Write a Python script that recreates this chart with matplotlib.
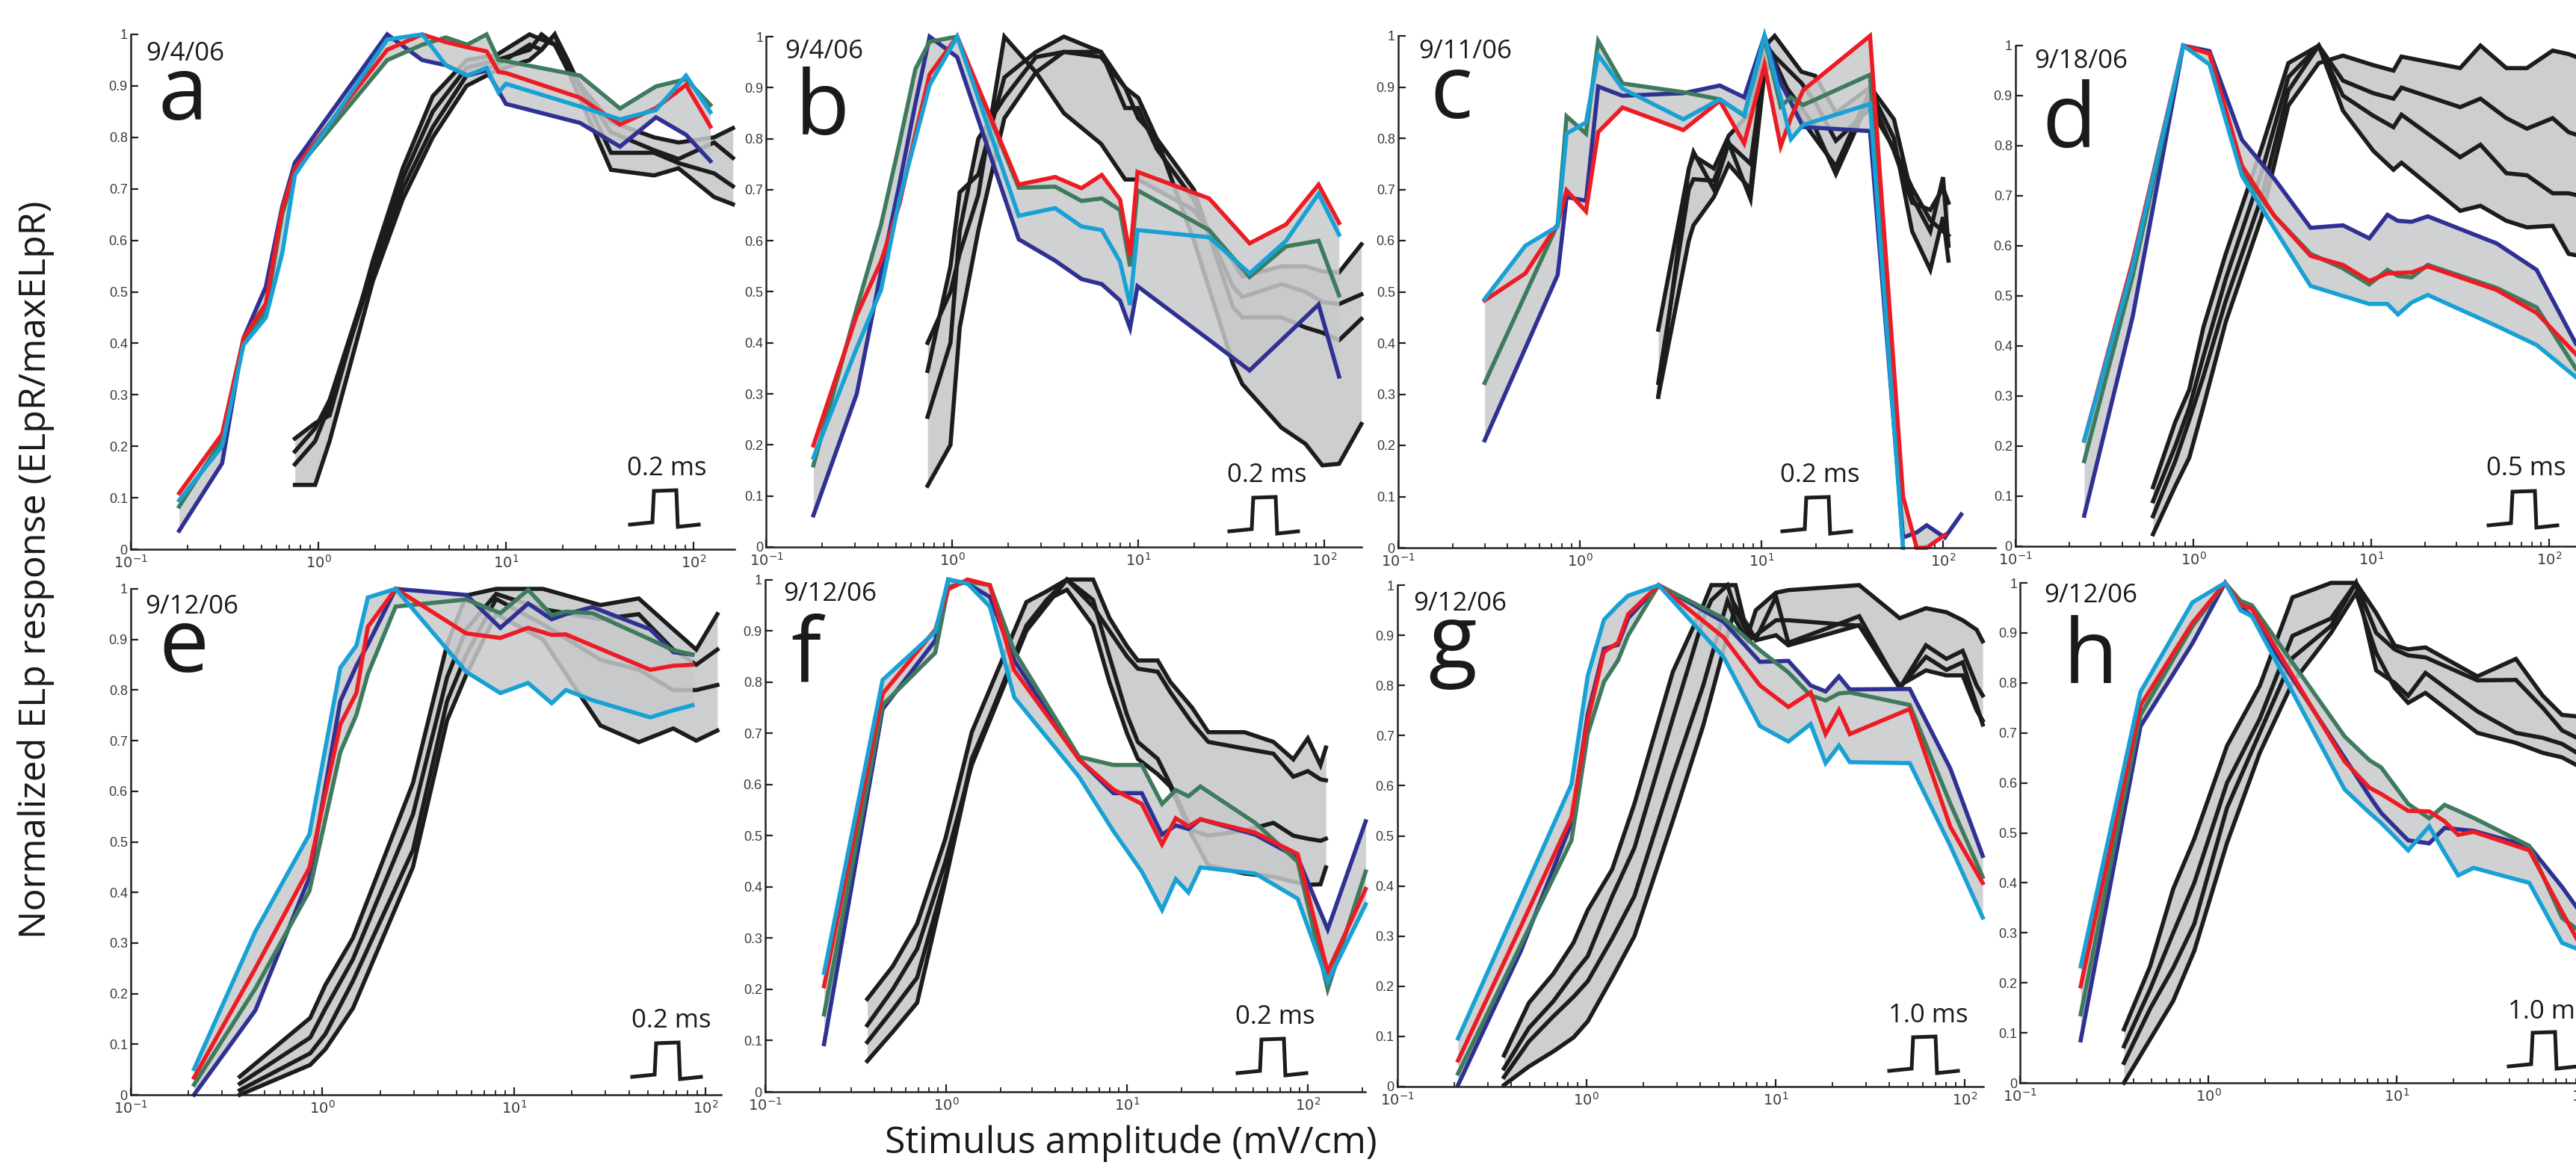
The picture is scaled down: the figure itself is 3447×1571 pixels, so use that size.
import numpy as np
import matplotlib
matplotlib.use("Agg")
import matplotlib.pyplot as plt
from matplotlib.lines import Line2D
from matplotlib.ticker import FixedLocator, NullFormatter

nan = np.nan

# ---------------- data (x given as log10 of stimulus amplitude, mV/cm) ----------------
# panel a
a_col_lx = [-0.742, -0.513, -0.399, -0.28, -0.193, -0.125, 0.367, 0.554, 0.68, 0.794, 0.897, 0.96, 1.0, 1.395, 1.608, 1.80, 1.96, 2.09]
a_blue   = [0.036, 0.167, 0.41, 0.51, 0.665, 0.751, 1.0, 0.95, 0.94, 0.92, 0.93, 0.89, 0.865, 0.828, 0.782, 0.839, 0.805, 0.754]
a_red    = [0.109, 0.224, 0.41, 0.477, 0.66, 0.74, 0.97, 1.0, 0.985, 0.975, 0.967, 0.927, 0.925, 0.877, 0.825, 0.857, 0.902, 0.821]
a_green  = [0.083, 0.213, 0.40, 0.463, 0.65, 0.734, 0.95, 0.98, 0.994, 0.98, 1.0, 0.95, 0.948, 0.92, 0.856, 0.899, 0.913, 0.863]
a_cyan   = [0.095, 0.20, 0.397, 0.45, 0.574, 0.727, 0.99, 1.0, 0.94, 0.92, 0.935, 0.887, 0.904, 0.86, 0.835, 0.853, 0.92, 0.849]
a_blk_lx = [-0.125, -0.017, 0.06, 0.29, 0.45, 0.61, 0.79, 0.95, 1.126, 1.19, 1.26, 1.33, 1.56, 1.79, 1.92, 2.11, 2.21]
a_k1 = [0.215, 0.245, 0.26, 0.56, 0.74, 0.88, 0.95, 0.96, 1.0, 0.99, 0.98, 0.93, 0.83, 0.80, 0.79, 0.80, 0.818]
a_k2 = [0.19, 0.235, 0.29, 0.55, 0.72, 0.85, 0.935, 0.95, 0.97, 1.0, 0.98, 0.94, 0.81, 0.775, 0.758, 0.79, 0.76]
a_k3 = [0.165, 0.21, 0.28, 0.54, 0.70, 0.82, 0.92, 0.94, 0.98, 0.97, 1.0, 0.95, 0.77, 0.77, 0.75, 0.73, 0.705]
a_k4 = [0.125, 0.125, 0.21, 0.52, 0.68, 0.80, 0.90, 0.93, 0.95, 0.97, 1.0, 0.93, 0.737, 0.726, 0.74, 0.684, 0.67]

# panel b
b_col_lx = [-0.747, -0.514, -0.383, -0.285, -0.198, -0.122, 0.026, 0.357, 0.553, 0.695, 0.804, 0.902, 0.956, 0.996, 1.381, 1.599, 1.795, 1.97, 2.08]
b_blue   = [0.062, 0.30, 0.54, 0.71, 0.87, 1.0, 0.96, 0.603, 0.561, 0.525, 0.515, 0.483, 0.429, 0.511, 0.406, 0.346, 0.414, 0.475, 0.334]
b_red    = [0.199, 0.454, 0.56, 0.671, 0.81, 0.926, 1.0, 0.71, 0.725, 0.703, 0.729, 0.681, 0.571, 0.735, 0.683, 0.595, 0.632, 0.71, 0.635]
b_green  = [0.16, 0.468, 0.632, 0.79, 0.937, 0.99, 1.0, 0.704, 0.706, 0.678, 0.683, 0.66, 0.55, 0.699, 0.621, 0.529, 0.589, 0.60, 0.493]
b_cyan   = [0.175, 0.39, 0.504, 0.68, 0.80, 0.905, 1.0, 0.649, 0.664, 0.628, 0.621, 0.559, 0.474, 0.621, 0.607, 0.536, 0.60, 0.692, 0.612]
b_blk_lx = [-0.133, -0.01, 0.04, 0.14, 0.28, 0.45, 0.60, 0.80, 0.93, 1.0, 1.1, 1.3, 1.51, 1.56, 1.77, 1.9, 1.99, 2.08, 2.2]
b_k1 = [0.40, 0.50, 0.575, 0.69, 1.0, 0.93, 0.85, 0.79, 0.72, 0.72, 0.70, 0.66, 0.56, 0.53, 0.55, 0.55, 0.54, 0.538, 0.593]
b_k2 = [0.345, 0.55, 0.695, 0.73, 0.92, 0.97, 1.0, 0.97, 0.86, 0.86, 0.78, 0.68, 0.51, 0.49, 0.515, 0.50, 0.48, 0.476, 0.495]
b_k3 = [0.255, 0.40, 0.62, 0.80, 0.88, 0.96, 0.97, 0.97, 0.90, 0.84, 0.80, 0.70, 0.47, 0.45, 0.45, 0.43, 0.42, 0.405, 0.447]
b_k4 = [0.12, 0.20, 0.43, 0.62, 0.84, 0.93, 0.97, 0.96, 0.90, 0.88, 0.80, 0.60, 0.358, 0.319, 0.234, 0.202, 0.16, 0.163, 0.241]

# panel c
c_col_lx = [-0.524, -0.30, -0.122, -0.073, 0.034, 0.101, 0.235, 0.57, 0.771, 0.905, 1.017, 1.106, 1.162, 1.23, 1.598, 1.78, 1.855, 1.91, 2.01, 2.1]
c_blue   = [0.21, 0.39, 0.533, 0.685, 0.678, 0.901, 0.883, 0.888, 0.903, 0.88, 1.0, 0.908, 0.87, 0.822, 0.814, 0.02, 0.03, 0.044, 0.02, 0.065]
c_red    = [0.483, 0.536, 0.632, 0.698, 0.657, 0.812, 0.86, 0.816, 0.873, 0.79, 0.943, 0.784, 0.84, 0.894, 1.0, 0.10, 0.0, 0.0, 0.025, nan]
c_green  = [0.322, 0.495, 0.632, 0.843, 0.809, 0.99, 0.907, 0.89, 0.876, 0.844, 0.996, 0.862, 0.88, 0.865, 0.924, 0.0, nan, nan, nan, nan]
c_cyan   = [0.486, 0.59, 0.628, 0.809, 0.831, 0.963, 0.897, 0.837, 0.876, 0.845, 1.0, 0.88, 0.798, 0.826, 0.867, 0.0, nan, nan, nan, nan]
c_blk_lx = [0.432, 0.60, 0.626, 0.738, 0.82, 0.94, 1.017, 1.073, 1.22, 1.296, 1.41, 1.6, 1.73, 1.83, 1.93, 2.0, 2.03]
c_k1 = [0.426, 0.74, 0.766, 0.741, 0.805, 0.85, 0.979, 1.0, 0.93, 0.922, 0.85, 0.90, 0.837, 0.685, 0.618, 0.724, 0.59]
c_k2 = [0.322, 0.70, 0.72, 0.717, 0.791, 0.681, 0.93, 0.95, 0.837, 0.80, 0.745, 0.894, 0.80, 0.618, 0.543, 0.646, 0.561]
c_k3 = [0.295, 0.60, 0.63, 0.685, 0.749, 0.70, 0.986, 0.96, 0.908, 0.87, 0.795, 0.858, 0.78, 0.703, 0.64, 0.618, 0.61]
c_k4 = [0.295, 0.74, 0.773, 0.70, 0.79, 0.75, 0.95, 0.93, 0.86, 0.82, 0.73, 0.88, 0.775, 0.674, 0.66, 0.703, 0.674]

# panel d
d_col_lx = [-0.614, -0.341, -0.057, 0.091, 0.273, 0.455, 0.659, 0.841, 0.989, 1.091, 1.15, 1.227, 1.318, 1.705, 1.93, 2.15]
d_blue   = [0.061, 0.459, 1.0, 0.989, 0.812, 0.734, 0.636, 0.641, 0.615, 0.662, 0.65, 0.648, 0.659, 0.605, 0.552, 0.405]
d_red    = [0.211, 0.57, 1.0, 0.984, 0.76, 0.66, 0.58, 0.562, 0.53, 0.545, 0.546, 0.547, 0.559, 0.512, 0.466, 0.384]
d_green  = [0.17, 0.54, 1.0, 0.984, 0.75, 0.66, 0.584, 0.555, 0.523, 0.552, 0.54, 0.537, 0.562, 0.516, 0.477, 0.355]
d_cyan   = [0.211, 0.56, 1.0, 0.962, 0.74, 0.635, 0.52, 0.50, 0.484, 0.484, 0.463, 0.487, 0.502, 0.44, 0.402, 0.338]
d_blk_lx = [-0.227, -0.102, -0.023, 0.057, 0.182, 0.386, 0.534, 0.705, 0.841, 1.011, 1.125, 1.17, 1.5, 1.614, 1.76, 1.875, 2.02, 2.11, 2.17]
d_k1 = [0.024, 0.12, 0.177, 0.28, 0.448, 0.66, 0.88, 0.965, 0.98, 0.961, 0.95, 0.978, 0.955, 1.0, 0.955, 0.955, 0.99, 0.983, 0.975]
d_k2 = [0.06, 0.17, 0.252, 0.34, 0.49, 0.70, 0.91, 1.0, 0.93, 0.905, 0.894, 0.916, 0.877, 0.894, 0.855, 0.834, 0.855, 0.827, 0.82]
d_k3 = [0.09, 0.20, 0.277, 0.38, 0.534, 0.75, 0.937, 1.0, 0.90, 0.86, 0.837, 0.862, 0.777, 0.802, 0.745, 0.741, 0.705, 0.705, 0.70]
d_k4 = [0.118, 0.248, 0.313, 0.438, 0.584, 0.798, 0.965, 1.0, 0.87, 0.79, 0.752, 0.766, 0.67, 0.68, 0.65, 0.637, 0.64, 0.584, 0.58]

# panel e
e_col_lx = [-0.67, -0.35, -0.068, 0.093, 0.177, 0.237, 0.382, 0.75, 0.928, 1.073, 1.196, 1.27, 1.408, 1.71, 1.83, 1.93]
e_blue   = [0.0, 0.167, 0.43, 0.778, 0.848, 0.89, 1.0, 0.988, 0.923, 0.971, 0.94, 0.95, 0.964, 0.92, 0.875, 0.87]
e_red    = [0.034, 0.25, 0.449, 0.732, 0.794, 0.925, 1.0, 0.912, 0.903, 0.923, 0.909, 0.91, 0.888, 0.84, 0.848, 0.85]
e_green  = [0.02, 0.21, 0.403, 0.677, 0.751, 0.832, 0.965, 0.979, 0.952, 0.998, 0.948, 0.955, 0.952, 0.90, 0.879, 0.87]
e_cyan   = [0.051, 0.323, 0.515, 0.844, 0.888, 0.983, 1.0, 0.836, 0.794, 0.814, 0.774, 0.80, 0.78, 0.746, 0.76, 0.77]
e_blk_lx = [-0.431, -0.064, 0.015, 0.159, 0.472, 0.65, 0.75, 0.906, 1.15, 1.45, 1.65, 1.83, 1.95, 2.06]
e_k1 = [0.036, 0.152, 0.217, 0.31, 0.616, 0.89, 0.987, 1.0, 1.0, 0.968, 0.981, 0.92, 0.88, 0.95]
e_k2 = [0.022, 0.113, 0.17, 0.268, 0.554, 0.825, 0.92, 0.99, 0.96, 0.94, 0.95, 0.88, 0.85, 0.88]
e_k3 = [0.009, 0.082, 0.12, 0.225, 0.484, 0.778, 0.87, 0.98, 0.93, 0.86, 0.84, 0.80, 0.80, 0.81]
e_k4 = [0.0, 0.059, 0.09, 0.171, 0.45, 0.74, 0.83, 0.95, 0.90, 0.73, 0.697, 0.724, 0.70, 0.72]

# panel f
f_col_lx = [-0.675, -0.351, -0.06, 0.012, 0.119, 0.242, 0.377, 0.735, 0.925, 1.082, 1.194, 1.27, 1.34, 1.406, 1.709, 1.944, 2.11, 2.32]
f_blue   = [0.093, 0.747, 0.881, 1.0, 0.992, 0.966, 0.842, 0.649, 0.583, 0.583, 0.502, 0.52, 0.513, 0.532, 0.502, 0.457, 0.317, 0.528]
f_red    = [0.206, 0.777, 0.902, 0.981, 1.0, 0.989, 0.823, 0.649, 0.59, 0.562, 0.483, 0.534, 0.518, 0.532, 0.506, 0.464, 0.234, 0.396]
f_green  = [0.151, 0.755, 0.857, 0.985, 0.996, 0.989, 0.86, 0.654, 0.638, 0.638, 0.562, 0.589, 0.577, 0.596, 0.525, 0.449, 0.2, 0.43]
f_cyan   = [0.232, 0.804, 0.898, 1.0, 0.992, 0.947, 0.77, 0.615, 0.509, 0.43, 0.355, 0.415, 0.389, 0.438, 0.426, 0.377, 0.215, 0.366]
f_blk_lx = [-0.436, -0.295, -0.16, -0.004, 0.142, 0.444, 0.556, 0.668, 0.813, 0.903, 1.0, 1.06, 1.17, 1.24, 1.36, 1.45, 1.65, 1.81, 1.92, 2.0, 2.07, 2.1]
f_k1 = [0.181, 0.245, 0.328, 0.494, 0.702, 0.956, 0.977, 1.0, 1.0, 0.925, 0.87, 0.842, 0.842, 0.80, 0.75, 0.702, 0.702, 0.683, 0.649, 0.69, 0.638, 0.672]
f_k2 = [0.13, 0.20, 0.279, 0.449, 0.638, 0.90, 0.95, 1.0, 0.947, 0.90, 0.85, 0.826, 0.82, 0.78, 0.72, 0.683, 0.67, 0.66, 0.615, 0.626, 0.61, 0.608]
f_k3 = [0.097, 0.16, 0.223, 0.419, 0.65, 0.90, 0.96, 1.0, 0.96, 0.85, 0.736, 0.683, 0.65, 0.60, 0.51, 0.50, 0.51, 0.525, 0.50, 0.494, 0.49, 0.494]
f_k4 = [0.06, 0.117, 0.174, 0.411, 0.645, 0.91, 0.96, 0.98, 0.91, 0.80, 0.70, 0.65, 0.62, 0.596, 0.50, 0.442, 0.426, 0.42, 0.41, 0.404, 0.405, 0.438]

# panel g
g_col_lx = [-0.679, -0.346, -0.079, 0.007, 0.093, 0.167, 0.221, 0.382, 0.725, 0.918, 1.068, 1.186, 1.265, 1.336, 1.393, 1.71, 1.925, 2.096]
g_blue   = [0.003, 0.271, 0.526, 0.742, 0.873, 0.881, 0.934, 1.0, 0.927, 0.847, 0.849, 0.80, 0.788, 0.818, 0.792, 0.793, 0.634, 0.46]
g_red    = [0.052, 0.32, 0.537, 0.73, 0.867, 0.885, 0.942, 1.0, 0.896, 0.80, 0.757, 0.786, 0.703, 0.751, 0.703, 0.753, 0.518, 0.406]
g_green  = [0.026, 0.283, 0.491, 0.703, 0.807, 0.85, 0.9, 1.0, 0.934, 0.87, 0.826, 0.78, 0.77, 0.784, 0.786, 0.761, 0.564, 0.418]
g_cyan   = [0.096, 0.377, 0.603, 0.819, 0.931, 0.96, 0.979, 1.0, 0.857, 0.719, 0.688, 0.723, 0.645, 0.68, 0.647, 0.645, 0.48, 0.337]
g_blk_lx = [-0.436, -0.304, -0.175, -0.068, 0.007, 0.136, 0.254, 0.457, 0.618, 0.661, 0.746, 0.789, 0.853, 0.896, 1.003, 1.068, 1.443, 1.657, 1.796, 1.904, 1.99, 2.064, 2.096]
g_k1 = [0.062, 0.167, 0.225, 0.287, 0.352, 0.433, 0.564, 0.827, 0.96, 1.0, 1.0, 1.0, 0.9, 0.95, 0.985, 0.99, 1.0, 0.934, 0.954, 0.946, 0.93, 0.911, 0.888]
g_k2 = [0.036, 0.117, 0.17, 0.225, 0.26, 0.379, 0.476, 0.734, 0.934, 0.97, 1.0, 0.95, 0.904, 0.892, 0.977, 0.885, 0.938, 0.795, 0.88, 0.853, 0.869, 0.80, 0.78]
g_k3 = [0.019, 0.09, 0.14, 0.179, 0.21, 0.295, 0.38, 0.62, 0.80, 0.857, 0.969, 0.93, 0.888, 0.90, 0.93, 0.93, 0.919, 0.795, 0.857, 0.831, 0.846, 0.76, 0.722]
g_k4 = [0.003, 0.04, 0.07, 0.098, 0.13, 0.217, 0.30, 0.53, 0.72, 0.78, 0.90, 0.958, 0.92, 0.89, 0.90, 0.88, 0.92, 0.80, 0.83, 0.82, 0.82, 0.75, 0.73]

# panel h
h_col_lx = [-0.679, -0.361, -0.085, 0.089, 0.171, 0.232, 0.724, 0.857, 0.918, 1.062, 1.174, 1.256, 1.328, 1.41, 1.706, 1.88, 1.96, 2.1]
h_blue   = [0.085, 0.713, 0.879, 1.0, 0.952, 0.933, 0.65, 0.573, 0.54, 0.485, 0.479, 0.51, 0.507, 0.504, 0.473, 0.392, 0.35, 0.25]
h_red    = [0.193, 0.755, 0.92, 1.0, 0.956, 0.948, 0.643, 0.59, 0.578, 0.544, 0.543, 0.523, 0.496, 0.502, 0.465, 0.342, 0.287, 0.22]
h_green  = [0.137, 0.736, 0.913, 1.0, 0.964, 0.955, 0.693, 0.645, 0.631, 0.558, 0.529, 0.556, 0.544, 0.53, 0.474, 0.33, 0.307, 0.24]
h_cyan   = [0.233, 0.782, 0.961, 1.0, 0.945, 0.933, 0.587, 0.54, 0.52, 0.465, 0.513, 0.46, 0.415, 0.43, 0.40, 0.28, 0.268, 0.2]
h_blk_lx = [-0.449, -0.31, -0.187, -0.075, 0.099, 0.273, 0.447, 0.652, 0.785, 0.892, 0.99, 1.062, 1.154, 1.43, 1.635, 1.778, 1.88, 1.96, 2.1]
h_k1 = [0.107, 0.233, 0.388, 0.488, 0.674, 0.794, 0.971, 1.0, 1.0, 0.94, 0.875, 0.867, 0.871, 0.813, 0.848, 0.774, 0.736, 0.733, 0.72]
h_k2 = [0.073, 0.187, 0.30, 0.40, 0.60, 0.728, 0.894, 0.929, 1.0, 0.90, 0.867, 0.855, 0.851, 0.805, 0.806, 0.75, 0.705, 0.69, 0.67]
h_k3 = [0.04, 0.148, 0.23, 0.318, 0.55, 0.70, 0.85, 0.914, 1.0, 0.825, 0.80, 0.774, 0.82, 0.743, 0.70, 0.69, 0.678, 0.66, 0.64]
h_k4 = [0.0, 0.087, 0.164, 0.264, 0.48, 0.66, 0.80, 0.90, 0.98, 0.86, 0.79, 0.76, 0.78, 0.70, 0.68, 0.66, 0.651, 0.635, 0.62]

LETTERS = ['a', 'b', 'c', 'd', 'e', 'f', 'g', 'h']
DATES = ['9/4/06', '9/4/06', '9/11/06', '9/18/06', '9/12/06', '9/12/06', '9/12/06', '9/12/06']
DURATIONS = ['0.2 ms', '0.2 ms', '0.2 ms', '0.5 ms', '0.2 ms', '0.2 ms', '1.0 ms', '1.0 ms']
Y_TICKS = [0, 0.1, 0.2, 0.3, 0.4, 0.5, 0.6, 0.7, 0.8, 0.9, 1]
Y_TICKLABELS = ['0', '0.1', '0.2', '0.3', '0.4', '0.5', '0.6', '0.7', '0.8', '0.9', '1']
X_TICKS = [0.1, 1, 10, 100]
X_TICKLABELS = [r'$10^{-1}$', r'$10^{0}$', r'$10^{1}$', r'$10^{2}$']

DATA = {
    'a': (a_col_lx, [a_blue, a_green, a_red, a_cyan], a_blk_lx, [a_k1, a_k2, a_k3, a_k4]),
    'b': (b_col_lx, [b_blue, b_green, b_red, b_cyan], b_blk_lx, [b_k1, b_k2, b_k3, b_k4]),
    'c': (c_col_lx, [c_blue, c_green, c_red, c_cyan], c_blk_lx, [c_k1, c_k2, c_k3, c_k4]),
    'd': (d_col_lx, [d_blue, d_green, d_red, d_cyan], d_blk_lx, [d_k1, d_k2, d_k3, d_k4]),
    'e': (e_col_lx, [e_blue, e_green, e_red, e_cyan], e_blk_lx, [e_k1, e_k2, e_k3, e_k4]),
    'f': (f_col_lx, [f_blue, f_green, f_red, f_cyan], f_blk_lx, [f_k1, f_k2, f_k3, f_k4]),
    'g': (g_col_lx, [g_blue, g_green, g_red, g_cyan], g_blk_lx, [g_k1, g_k2, g_k3, g_k4]),
    'h': (h_col_lx, [h_blue, h_green, h_red, h_cyan], h_blk_lx, [h_k1, h_k2, h_k3, h_k4]),
}

# ---------------- layout / style ----------------
W, H = 3448, 1571
# left px (x=1e-1), px per decade, log10 xmax, y px of 0, y px of 1
GEOM = {
    'a': (175, 251.0, 2.22, 735, 46),
    'b': (1025.5, 248.8, 2.20, 732, 49),
    'c': (1871, 243.0, 2.29, 733, 48),
    'd': (2697, 238.0, 2.35, 731, 61),
    'e': (175, 256.5, 2.08, 1465, 788),
    'f': (1024, 242.0, 2.32, 1461, 775.5),
    'g': (1869.8, 253.0, 2.10, 1454, 783),
    'h': (2703.4, 251.7, 2.30, 1449, 780),
}
DATE_POS = {'a': (195, 81), 'b': (1050, 78), 'c': (1898, 78), 'd': (2722, 91),
            'e': (194, 821), 'f': (1048, 804), 'g': (1891, 817), 'h': (2735, 806)}
LETTER_POS = {'a': (212, 160), 'b': (1064, 180), 'c': (1913, 158), 'd': (2732, 197),
              'e': (212, 899), 'f': (1058, 911), 'g': (1911, 894), 'h': (2761, 914)}
DUR_POS = {'a': (839, 636), 'b': (1642, 645), 'c': (2382, 645), 'd': (3327, 636),
           'e': (845, 1375), 'f': (1653, 1370), 'g': (2527, 1368), 'h': (3356, 1363)}
PULSE_POS = {'a': (843, 701), 'b': (1645, 710), 'c': (2385, 710), 'd': (3330, 702),
             'e': (846, 1440), 'f': (1656, 1435), 'g': (2528, 1432), 'h': (3357, 1426)}
PULSE_DX = [0, 30, 32, 62, 64, 92]
PULSE_DY = [1, -2, -44, -45, 4, 1]

C_BLUE, C_GREEN, C_RED, C_CYAN = '#2e3192', '#3e7b5d', '#ed1c24', '#17a1d5'
COL_COLORS = [C_BLUE, C_GREEN, C_RED, C_CYAN]
C_BLACK = '#1c1c1c'
C_FAN = '#c8c9cb'
FONT = ['Open Sans', 'DejaVu Sans']
TICKFONT = ['Liberation Sans Narrow', 'Liberation Sans', 'DejaVu Sans']
LW = 4.0


def fx(x):
    return x / W


def fy(y):
    return 1 - y / H


def envelope(lx, curves, n=700):
    lx = np.asarray(lx, float)
    grid = np.union1d(np.linspace(lx.min(), lx.max(), n), lx)
    stack = []
    for c in curves:
        c = np.asarray(c, float)
        ok = ~np.isnan(c)
        v = np.interp(grid, lx[ok], c[ok])
        v[(grid < lx[ok].min()) | (grid > lx[ok].max())] = np.nan
        stack.append(v)
    stack = np.vstack(stack)
    return grid, np.nanmin(stack, 0), np.nanmax(stack, 0)


fig = plt.figure(figsize=(W / 100, H / 100), dpi=100)
fig.patch.set_facecolor('white')

for key, date, dur in zip(LETTERS, DATES, DURATIONS):
    left, dec, xmax, y0, y1 = GEOM[key]
    right = left + (xmax + 1) * dec
    ax = fig.add_axes([fx(left), fy(y0), (right - left) / W, (y0 - y1) / H])
    ax.patch.set_visible(False)
    ax.set_xscale('log')
    ax.set_xlim(0.1, 10 ** xmax)
    ax.set_ylim(0, 1)

    col_lx, cols, blk_lx, blks = DATA[key]
    # black family: fan + lines
    g, lo, hi = envelope(blk_lx, blks)
    ax.fill_between(10 ** g, lo, hi, color=C_FAN, lw=0, zorder=1, alpha=0.9, clip_on=False)
    for k in blks:
        ax.plot(10 ** np.asarray(blk_lx), k, color=C_BLACK, lw=LW, zorder=2,
                solid_joinstyle='miter', clip_on=False)
    # coloured family: fan + lines
    g, lo, hi = envelope(col_lx, cols)
    ax.fill_between(10 ** g, lo, hi, color=C_FAN, lw=0, zorder=3, alpha=0.85, clip_on=False)
    for c, colr in zip(cols, COL_COLORS):
        ax.plot(10 ** np.asarray(col_lx), c, color=colr, lw=LW, zorder=4,
                solid_joinstyle='miter', clip_on=False)

    for s in ['top', 'right']:
        ax.spines[s].set_visible(False)
    for s in ['left', 'bottom']:
        ax.spines[s].set_linewidth(1.8)
        ax.spines[s].set_color('#222222')
        ax.spines[s].set_zorder(5)

    ax.set_yticks(Y_TICKS)
    ax.set_yticklabels(Y_TICKLABELS)
    xt = [t for t in X_TICKS if t <= 10 ** xmax]
    ax.xaxis.set_major_locator(FixedLocator(xt))
    ax.set_xticklabels(X_TICKLABELS[:len(xt)])
    minors = [m * 10.0 ** e for e in range(-1, 3) for m in range(2, 10) if m * 10.0 ** e <= 10 ** xmax]
    ax.xaxis.set_minor_locator(FixedLocator(minors))
    ax.xaxis.set_minor_formatter(NullFormatter())
    ax.tick_params(which='both', direction='in', colors='#222222', labelcolor='#3a3a3a')
    ax.tick_params(which='major', length=7, width=1.6, labelsize=13, pad=3)
    ax.tick_params(which='minor', length=4.5, width=1.3)
    ax.tick_params(axis='x', which='major', pad=5)
    for lab in ax.get_yticklabels():
        lab.set_family(TICKFONT)
    for lab in ax.get_xticklabels():
        lab.set_fontsize(14)

    # annotations
    dx, dy = DATE_POS[key]
    fig.text(fx(dx), fy(dy), date, family=FONT, fontsize=25, color='#1a1a1a', ha='left', va='baseline')
    lx_, ly_ = LETTER_POS[key]
    fig.text(fx(lx_), fy(ly_), key, family=FONT, fontsize=86, color='#1a1a1a', ha='left', va='baseline')
    tx, ty = DUR_POS[key]
    fig.text(fx(tx), fy(ty), dur, family=FONT, fontsize=25, color='#1a1a1a', ha='left', va='baseline')
    px, py = PULSE_POS[key]
    fig.add_artist(Line2D([fx(px + d) for d in PULSE_DX], [fy(py + d) for d in PULSE_DY],
                          transform=fig.transFigure, color=C_BLACK, lw=3.6,
                          solid_joinstyle='miter'))

fig.text(0.014, 0.515, 'Normalized ELp response (ELpR/maxELpR)', rotation=90,
         family=FONT, fontsize=36, color='#1a1a1a', ha='center', va='center')
fig.text(0.439, 0.026, 'Stimulus amplitude (mV/cm)', family=FONT, fontsize=36,
         color='#1a1a1a', ha='center', va='center')

fig.savefig('out.png', dpi=100, facecolor='white')
